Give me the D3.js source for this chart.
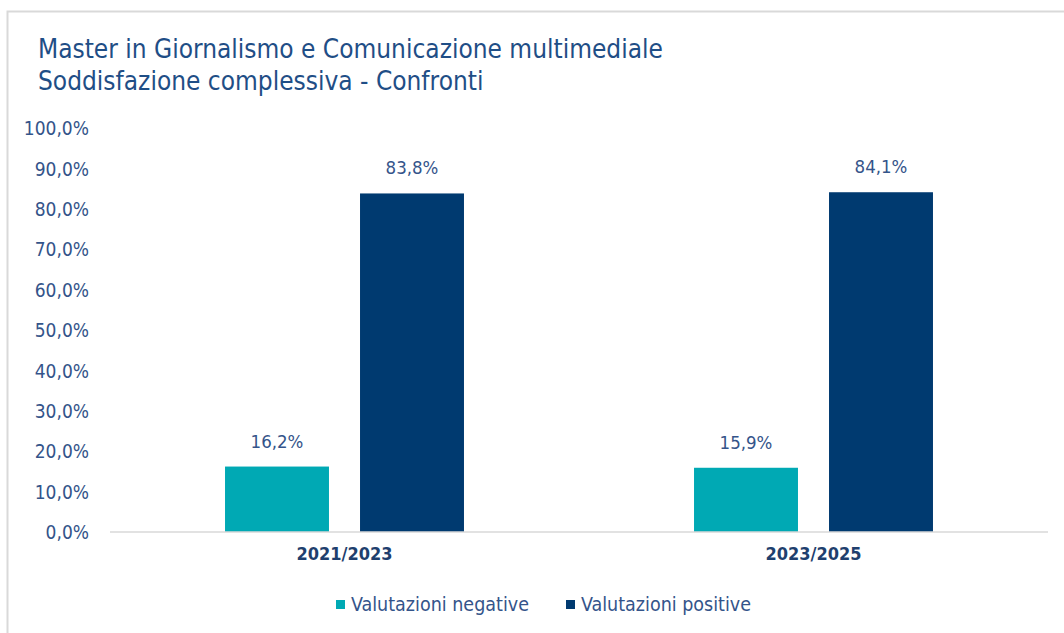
<!DOCTYPE html>
<html>
<head>
<meta charset="utf-8">
<script src="https://cdn.jsdelivr.net/npm/d3@7"></script>
<style>
  body { margin: 0; background: #fff; }
  svg text { font-family: "Liberation Sans Narrow", "Arial Narrow", "DejaVu Sans Condensed", sans-serif; }
</style>
</head>
<body>
<div id="chart"></div>
<script>
const categories = ["2021/2023", "2023/2025"];
const seriesNames = ["Valutazioni negative", "Valutazioni positive"];
const negative = [16.2, 15.9];
const positive = [83.8, 84.1];
const yTicks = [0, 10, 20, 30, 40, 50, 60, 70, 80, 90, 100];
const colors = ["#00a9b4", "#003a70"];

const w = 1064, h = 633;
const padLeft = 110, padRight = 1048, padTop = 128, padBottom = 532;
const textColor = "#34548a";

const svg = d3.select("#chart").append("svg")
  .attr("width", w).attr("height", h);

// frame
svg.append("path")
  .attr("d", "M7.5," + h + " V11.5 H" + w)
  .attr("fill", "none")
  .attr("stroke", "#d9d9d9")
  .attr("stroke-width", 2);

svg.append("text").attr("x", 38).attr("y", 58)
  .attr("fill", "#1f4e86").style("font-size", "26px")
  .text("Master in Giornalismo e Comunicazione multimediale");
svg.append("text").attr("x", 38).attr("y", 90)
  .attr("fill", "#1f4e86").style("font-size", "26px")
  .text("Soddisfazione complessiva - Confronti");

const x0 = d3.scaleBand().domain(categories).range([padLeft, padRight]).paddingInner(0).paddingOuter(0);
const x1 = d3.scaleBand().domain([0, 1]).range([0, x0.bandwidth()]).paddingInner(0.23).paddingOuter(0.852);
const y = d3.scaleLinear().domain([0, 100]).range([padBottom, padTop]);

const fmt = v => d3.format(".1f")(v).replace(".", ",") + "%";

const yAxis = svg.append("g")
  .attr("transform", "translate(" + (padLeft - 18) + ",0)")
  .call(d3.axisLeft(y).tickValues(yTicks).tickSize(0).tickFormat(fmt));
yAxis.select(".domain").remove();
yAxis.selectAll("text").attr("fill", textColor).style("font-size", "19px").attr("dy", "0.35em");

const data = categories.map((c, i) => ({ cat: c, vals: [negative[i], positive[i]] }));

const groups = svg.selectAll("g.grp").data(data).enter().append("g")
  .attr("class", "grp")
  .attr("transform", d => "translate(" + x0(d.cat) + ",0)");

groups.selectAll("rect").data(d => d.vals.map((v, k) => ({ k, v }))).enter().append("rect")
  .attr("x", d => x1(d.k))
  .attr("y", d => y(d.v))
  .attr("width", x1.bandwidth())
  .attr("height", d => y(0) - y(d.v))
  .attr("fill", d => colors[d.k]);

groups.selectAll("text.lbl").data(d => d.vals.map((v, k) => ({ k, v }))).enter().append("text")
  .attr("class", "lbl")
  .attr("x", d => x1(d.k) + x1.bandwidth() / 2)
  .attr("y", d => y(d.v) - 19)
  .attr("text-anchor", "middle")
  .attr("fill", textColor)
  .style("font-size", "18.5px")
  .text(d => fmt(d.v));

// baseline
svg.append("line")
  .attr("x1", padLeft).attr("x2", padRight)
  .attr("y1", y(0)).attr("y2", y(0))
  .attr("stroke", "#d9d9d9").attr("stroke-width", 1.5);

const xAxis = svg.append("g")
  .attr("transform", "translate(0," + padBottom + ")")
  .call(d3.axisBottom(x0).tickSize(0).tickPadding(15));
xAxis.select(".domain").remove();
xAxis.selectAll("text").attr("fill", "#1f3f6e").style("font-size", "18px").style("font-weight", "bold");

// legend
const legend = svg.append("g");
const legX = [336, 566];
seriesNames.forEach((s, i) => {
  legend.append("rect").attr("x", legX[i]).attr("y", 600).attr("width", 9).attr("height", 9).attr("fill", colors[i]);
  legend.append("text").attr("x", legX[i] + 15).attr("y", 611)
    .attr("fill", textColor).style("font-size", "19.5px").text(s);
});
</script>
</body>
</html>
